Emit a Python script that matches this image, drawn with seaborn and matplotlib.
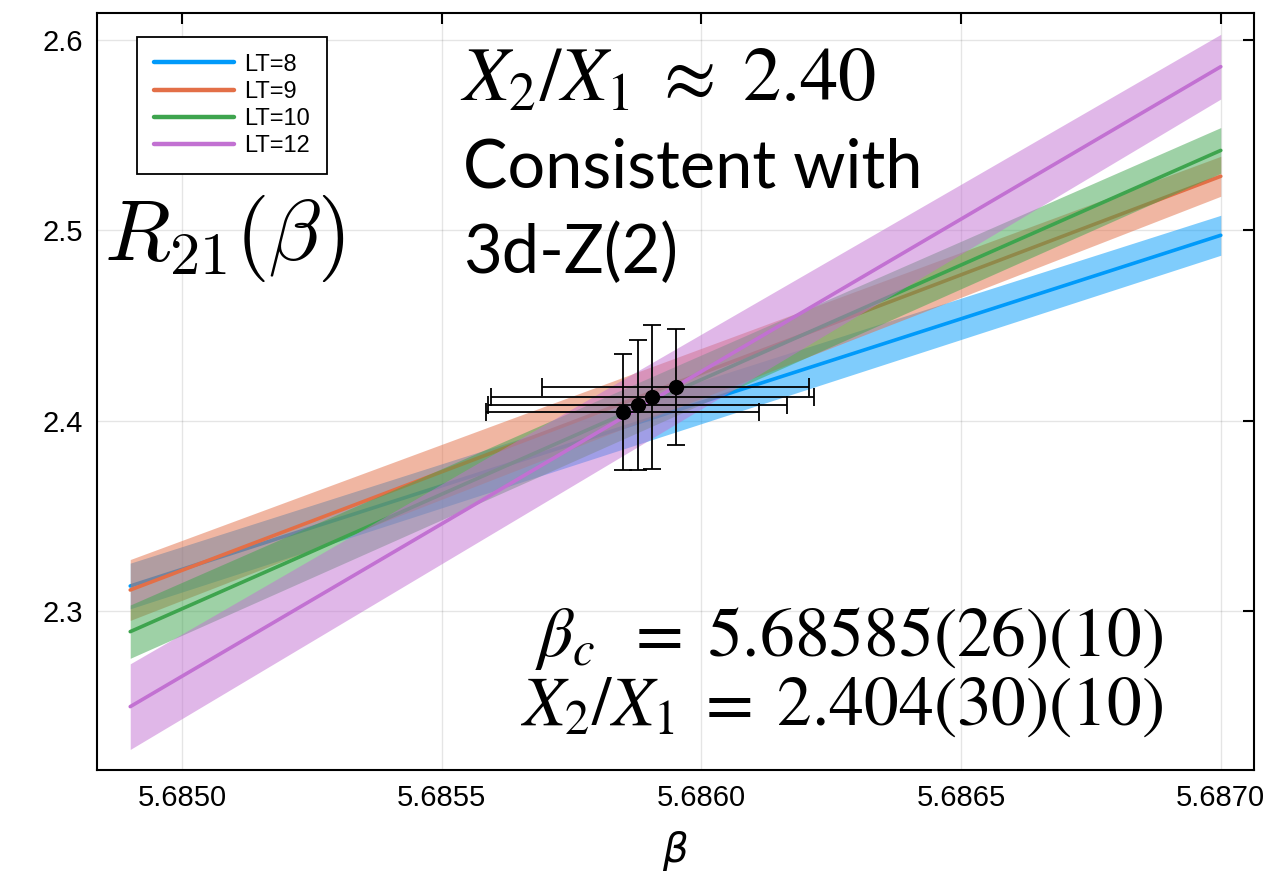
import matplotlib
matplotlib.use("Agg")
import matplotlib.pyplot as plt
import seaborn as sns
import pandas as pd

# ---- data ----
lt_labels = ["LT=8", "LT=9", "LT=10", "LT=12"]
beta_range = [5.6849, 5.6870]
r21_lt8 = [2.3131, 2.4974]
r21_lt9 = [2.3110, 2.5284]
r21_lt10 = [2.2891, 2.5420]
r21_lt12 = [2.2497, 2.5860]
err_lt8 = [0.0120, 0.0105]
err_lt9 = [0.0160, 0.0105]
err_lt10 = [0.0140, 0.0120]
err_lt12 = [0.0225, 0.0170]

beta_pts = [5.685848, 5.685877, 5.685905, 5.685950]
r21_pts = [2.4044, 2.4080, 2.4122, 2.4175]
beta_err = [0.000263, 0.000288, 0.000311, 0.000258]
r21_err = [0.0306, 0.0342, 0.0378, 0.0305]

x_ticks = [5.6850, 5.6855, 5.6860, 5.6865, 5.6870]
y_ticks = [2.3, 2.4, 2.5, 2.6]

colors = ["#009AFA", "#E36F47", "#3EA44E", "#C271D2"]

sns.set_theme(style="white")
plt.rcParams["font.family"] = ["Liberation Sans", "DejaVu Sans"]
plt.rcParams["text.color"] = "black"
plt.rcParams["axes.labelcolor"] = "black"
plt.rcParams["xtick.color"] = "black"
plt.rcParams["ytick.color"] = "black"

fig = plt.figure(figsize=(12.86, 8.83), dpi=100)
ax = fig.add_axes([0.07543, 0.12797, 0.8997, 0.8573])

series = [r21_lt8, r21_lt9, r21_lt10, r21_lt12]
errs = [err_lt8, err_lt9, err_lt10, err_lt12]
for i, (lab, yv, ev) in enumerate(zip(lt_labels, series, errs)):
    df = pd.DataFrame({"beta": beta_range, "R21": yv})
    lo = [a - b for a, b in zip(yv, ev)]
    hi = [a + b for a, b in zip(yv, ev)]
    ax.fill_between(beta_range, lo, hi, color=colors[i], alpha=0.5,
                    linewidth=0, zorder=2 + 2 * i)
    sns.lineplot(data=df, x="beta", y="R21", ax=ax, color=colors[i],
                 lw=2.6, label=lab, zorder=3 + 2 * i)

ax.errorbar(beta_pts, r21_pts, xerr=beta_err, yerr=r21_err, fmt="o",
            color="black", ms=10, elinewidth=1.3, capsize=6.5, capthick=1.3,
            zorder=20)

ax.set_xlim(5.684836, 5.687064)
ax.set_ylim(2.2164, 2.6142)
ax.set_xticks(x_ticks)
ax.set_xticklabels([f"{t:.4f}" for t in x_ticks])
ax.set_yticks(y_ticks)
ax.set_yticklabels([f"{t:.1f}" for t in y_ticks])
ax.tick_params(direction="in", length=8, width=1.5, top=True, right=True,
               labelsize=21, colors="black", pad=10)
ax.grid(True, color="#000000", alpha=0.1, lw=1.0)
for s in ax.spines.values():
    s.set_visible(True)
    s.set_color("black")
    s.set_linewidth(1.5)

ax.set_xlabel(r"$\beta$", fontsize=29, labelpad=12, color="black")
ax.set_ylabel("")

leg = ax.legend(loc="upper left", bbox_to_anchor=(0.0346, 0.968),
                borderaxespad=0, fontsize=17, frameon=True, fancybox=False,
                handlelength=3.4, handletextpad=0.45, labelspacing=0.22,
                borderpad=0.7, framealpha=1)
leg.get_frame().set_edgecolor("black")
leg.get_frame().set_linewidth(1.3)
for h in leg.get_lines():
    h.set_linewidth(3.2)
for t in leg.get_texts():
    t.set_color("black")

ax.text(0.006, 0.674, r"$R_{21}(\beta)$", transform=ax.transAxes,
        fontsize=62, math_fontfamily="cm", va="baseline", ha="left",
        color="black", zorder=30)
ax.text(0.3137, 0.885, r"$X_2/X_1\;\approx\;\mathrm{2.40}$",
        transform=ax.transAxes, fontsize=55, math_fontfamily="stix",
        va="baseline", ha="left", color="black", zorder=30)
ax.text(0.316, 0.769, "Consistent with", transform=ax.transAxes,
        fontsize=48, family=["Lato", "DejaVu Sans"], va="baseline",
        ha="left", color="black", zorder=30)
ax.text(0.316, 0.6565, "3d-Z(2)", transform=ax.transAxes,
        fontsize=48, family=["Lato", "DejaVu Sans"], va="baseline",
        ha="left", color="black", zorder=30)
ax.text(0.9213, 0.150, r"$\beta_c\;\;=\;\mathrm{5.68585(26)(10)}$",
        transform=ax.transAxes, fontsize=50, math_fontfamily="stix",
        va="baseline", ha="right", color="black", zorder=30)
ax.text(0.9213, 0.0594, r"$X_2/X_1\;=\;\mathrm{2.404(30)(10)}$",
        transform=ax.transAxes, fontsize=50, math_fontfamily="stix",
        va="baseline", ha="right", color="black", zorder=30)

fig.savefig("out.png", dpi=100, facecolor="white")
